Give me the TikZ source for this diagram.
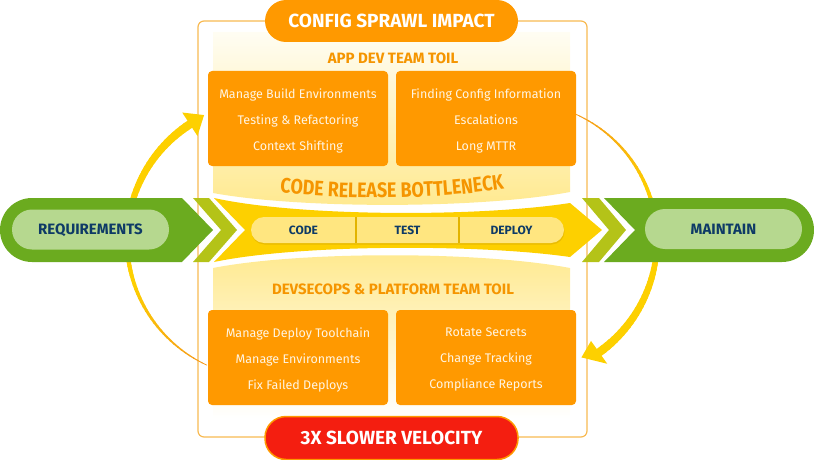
\documentclass[tikz,border=0pt]{standalone}
\usepackage{fontspec}
\setmainfont{Fira Sans}
\newfontfamily\condfont[FakeStretch=0.85]{Fira Sans}
\usetikzlibrary{decorations.text,calc}
\definecolor{orangebox}{HTML}{FF9900}
\definecolor{orangetxt}{HTML}{F59500}
\definecolor{frameor}{HTML}{F8BA52}
\definecolor{redpill}{HTML}{F41E10}
\definecolor{gold}{HTML}{FDD000}
\definecolor{paleyel}{HTML}{FFE680}
\definecolor{divider}{HTML}{E2B300}
\definecolor{navy}{HTML}{0E3A66}
\definecolor{grn}{HTML}{6BAB1F}
\definecolor{grnlight}{HTML}{B6D88F}
\definecolor{olive}{HTML}{B4C318}
\definecolor{arcorange}{HTML}{F59A1B}
\definecolor{boxtext}{HTML}{FFF5E3}
\definecolor{bandtop}{HTML}{FFFDF3}
\definecolor{bandbot}{HTML}{FFE98E}
\tikzset{
  toilbox/.style={fill=orangebox, rounded corners=4pt, minimum width=180pt, minimum height=95pt,
    inner sep=0pt},
  toiltext/.style={inner sep=0pt, align=center, text=boxtext, font=\fontsize{12.5}{26}\selectfont},
  headpill/.style={rounded corners=21pt, minimum width=253pt, minimum height=42pt, inner sep=0pt,
    text height=13pt, text depth=0pt, text=white, font=\bfseries\fontsize{19}{19}\selectfont},
  bandlabel/.style={text=orangetxt, font=\bfseries\fontsize{15}{15}\selectfont, inner sep=0pt,
    text height=10.3pt, text depth=0pt},
  greenpill/.style={fill=grnlight, rounded corners=20pt, minimum width=157pt, minimum height=40pt,
    inner sep=0pt, text=navy, font=\bfseries\fontsize{15}{15}\selectfont, text height=10.3pt, text depth=0pt},
  stagelabel/.style={text=navy, font=\bfseries\fontsize{12}{12}\selectfont, inner sep=0pt,
    text height=8.3pt, text depth=0pt}
}
\begin{document}
\begin{tikzpicture}[x=1pt,y=-1pt]
\useasboundingbox (0,0) rectangle (814,460);
% frame
\draw[frameor, line width=1.2pt, rounded corners=6pt] (198,21) rectangle (587,437);
% bands
\shade[top color=bandtop, bottom color=bandbot] (213,32) -- (570,32) -- (570,192)
  .. controls (480,209) and (300,209) .. (213,193) -- cycle;
\shade[top color=bandbot, bottom color=white] (213,268) .. controls (300,251) and (480,251) .. (570,268)
  -- (570,418) -- (213,418) -- cycle;
% left arc
\foreach \a in {115,117,...,235} {
  \pgfmathsetmacro\t{(\a-115)/120}
  \pgfmathsetmacro\w{0.8+7.6*\t}
  \pgfmathtruncatemacro\p{min(100,260*\t)}
  \draw[line width=\w pt, color=gold!\p!arcorange, line cap=round]
    ({265+138*cos(\a)},{240+138*sin(\a)}) -- ({265+138*cos(\a+2.3)},{240+138*sin(\a+2.3)});
}
\fill[gold] ({265+152*cos(237)},{240+152*sin(237)}) -- ({265+124*cos(237)},{240+124*sin(237)})
  -- ({265+139*cos(244)},{240+139*sin(244)}) -- cycle;
% right arc
\foreach \a in {-66,-64,...,52} {
  \pgfmathsetmacro\t{(\a+66)/118}
  \pgfmathsetmacro\w{0.8+7.6*\t}
  \pgfmathtruncatemacro\p{min(100,260*\t)}
  \draw[line width=\w pt, color=gold!\p!arcorange, line cap=round]
    ({519+138*cos(\a)},{240+138*sin(\a)}) -- ({519+138*cos(\a+2.5)},{240+138*sin(\a+2.5)});
}
\fill[gold] ({519+152*cos(54.5)},{240+152*sin(54.5)}) -- ({519+124*cos(54.5)},{240+124*sin(54.5)})
  -- ({519+133*cos(62)},{240+133*sin(62)}) -- cycle;
% header pills
\node[headpill, fill=orangebox] (impact) at (391.5,21) {CONFIG SPRAWL IMPACT};
\node[headpill, fill=redpill, draw=orangebox, line width=1.5pt, minimum height=43pt] (velocity) at (391.5,438) {3X SLOWER VELOCITY};
% band labels
\node[bandlabel] (appdev) at (393,58) {APP DEV TEAM TOIL};
\node[bandlabel] (devsec) at (393,289) {DEVSECOPS \& PLATFORM TEAM TOIL};
\path[decorate, decoration={text along path, text align=center, text color=orangetxt,
  text={|\condfont\bfseries\fontsize{21}{21}\selectfont|CODE RELEASE BOTTLENECK}}]
  (262,191) .. controls (350,201) and (435,201) .. (522,186);
% boxes
\node[toilbox] (b1) at (298,118.5) {};
\node[toilbox] (b2) at (486,118.5) {};
\node[toilbox] (b3) at (298,357.5) {};
\node[toilbox] (b4) at (486,357.5) {};
\node[toiltext] (t1) at ($(b1.center)+(0,2)$) {Manage Build Environments\\Testing \& Refactoring\\Context Shifting};
\node[toiltext] (t2) at ($(b2.center)+(0,2)$) {Finding Config Information\\Escalations\\Long MTTR};
\node[toiltext] (t3) at ($(b3.center)+(0,2)$) {Manage Deploy Toolchain\\Manage Environments\\Fix Failed Deploys};
\node[toiltext] (t4) at ($(b4.center)+(0,2)$) {Rotate Secrets\\Change Tracking\\Compliance Reports};
% yellow bottleneck arrow
\fill[gold] (214,198) .. controls (300,217) and (480,217) .. (570,203) -- (602,230) -- (570,257)
  .. controls (480,244) and (300,244) .. (214,262) -- (245,230) -- cycle;
\node[fill=divider!70!gold, rounded corners=13pt, minimum width=313pt, minimum height=26pt, inner sep=0pt] (shadow) at (408,231.5) {};
\node[fill=paleyel, rounded corners=13pt, minimum width=313pt, minimum height=26pt, inner sep=0pt] (stages) at (407.5,230) {};
\draw[divider, line width=1.3pt] (356,217) -- (356,243);
\draw[divider, line width=1.3pt] (459,217) -- (459,243);
\node[stagelabel] (code) at (303.5,230.5) {CODE};
\node[stagelabel] (test) at (407.5,230.5) {TEST};
\node[stagelabel] (deploy) at (511.5,230.5) {DEPLOY};
% green arrows
\fill[grn] (32,198) -- (182,198) -- (213,230) -- (182,262) -- (32,262) arc[start angle=90, end angle=270, radius=32] -- cycle;
\fill[grn] (604,198) -- (782,198) arc[start angle=270, end angle=450, radius=32] -- (604,262) -- (635,230) -- cycle;
\fill[olive] (193,198) -- (209,198) -- (237,230) -- (209,262) -- (193,262) -- (221,230) -- cycle;
\fill[olive] (582,198) -- (599,198) -- (626,230) -- (599,262) -- (582,262) -- (609,230) -- cycle;
\node[greenpill] (req) at (90.5,229.5) {REQUIREMENTS};
\node[greenpill] (maint) at (723.5,229) {MAINTAIN};
\end{tikzpicture}
\end{document}
